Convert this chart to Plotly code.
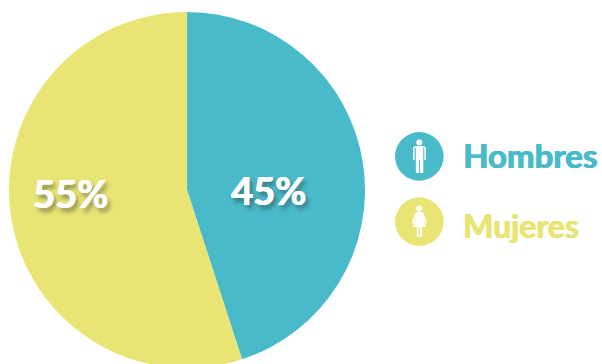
import plotly.graph_objects as go

categories = ["Hombres", "Mujeres"]
values = [45, 55]
colors = ["#49BAC9", "#E9E574"]

W, H = 602, 370
FONT = "Lato"
BOLD = "0.7px 0 0 {c}, -0.3px 0 0 {c}, 0 0.4px 0 {c}"
SHADOW = BOLD.format(c="white") + ", 3px 4px 4px rgba(40,50,50,0.5)"


def px(x):
    return x / W


def py(y):
    return 1 - y / H


def path(points):
    """SVG path in paper units from pixel vertices."""
    return "M" + " L".join(f"{px(x):.5f},{py(y):.5f}" for x, y in points) + " Z"


def circle(cx, cy, r, color):
    return dict(type="circle", xref="paper", yref="paper", layer="above",
                x0=px(cx - r), x1=px(cx + r), y0=py(cy + r), y1=py(cy - r),
                fillcolor=color, line_width=0)


def figure_shape(points):
    return dict(type="path", xref="paper", yref="paper", layer="above",
                path=path(points), fillcolor="white", line_width=0)


man = [(415, 146), (424, 146), (426, 148), (426, 160), (424.3, 160), (424.3, 147.5),
       (423.3, 147.5), (423.3, 173), (420, 173), (420, 160), (419, 160), (419, 173),
       (415.8, 173), (415.8, 147.5), (414.6, 147.5), (414.6, 160), (413, 160), (413, 148)]
woman = [(416.5, 212), (422, 212), (424, 214), (427, 223), (425.5, 223.6), (422.5, 216),
         (426, 227), (422, 227), (422, 237), (420, 237), (420, 227), (418.8, 227),
         (418.8, 237), (416.8, 237), (416.8, 227), (412.8, 227), (416.3, 216),
         (413.3, 223.6), (411.8, 223), (414.8, 214)]

shapes = [
    circle(419.3, 156.4, 24.3, colors[0]),
    circle(419.3, 221.6, 24.3, colors[1]),
    circle(419.3, 142.4, 3.0, "white"),
    figure_shape(man),
    circle(419.3, 208.6, 3.0, "white"),
    figure_shape(woman),
]


def label(x, y, text, size, color, shadow, xanchor="center"):
    return dict(x=px(x), y=py(y), text=text, showarrow=False,
                xanchor=xanchor, yanchor="middle",
                font=dict(family=FONT, size=size, color=color, weight=700, shadow=shadow))


annotations = [
    label(268.5, 189.5, f"{values[0]}%", 38, "white", SHADOW),
    label(70, 192.5, f"{values[1]}%", 38, "white", SHADOW),
    label(461, 155, categories[0], 33, colors[0], BOLD.format(c=colors[0]), xanchor="left"),
    label(461, 225, categories[1], 32, colors[1], BOLD.format(c=colors[1]), xanchor="left"),
]

fig = go.Figure(go.Pie(
    labels=categories,
    values=values,
    marker=dict(colors=colors, line_width=0),
    sort=False,
    direction="clockwise",
    rotation=0,
    textinfo="none",
    hoverinfo="label+percent",
    showlegend=False,
    domain=dict(x=[px(9), px(365)], y=[py(368), py(12)]),
))

fig.update_layout(
    width=W,
    height=H,
    margin=dict(l=0, r=0, t=0, b=0),
    paper_bgcolor="white",
    shapes=shapes,
    annotations=annotations,
)

fig.write_html(
    "out.html",
    config={"displayModeBar": False},
    post_script="document.documentElement.style.overflow='hidden';document.body.style.overflow='hidden';",
)
